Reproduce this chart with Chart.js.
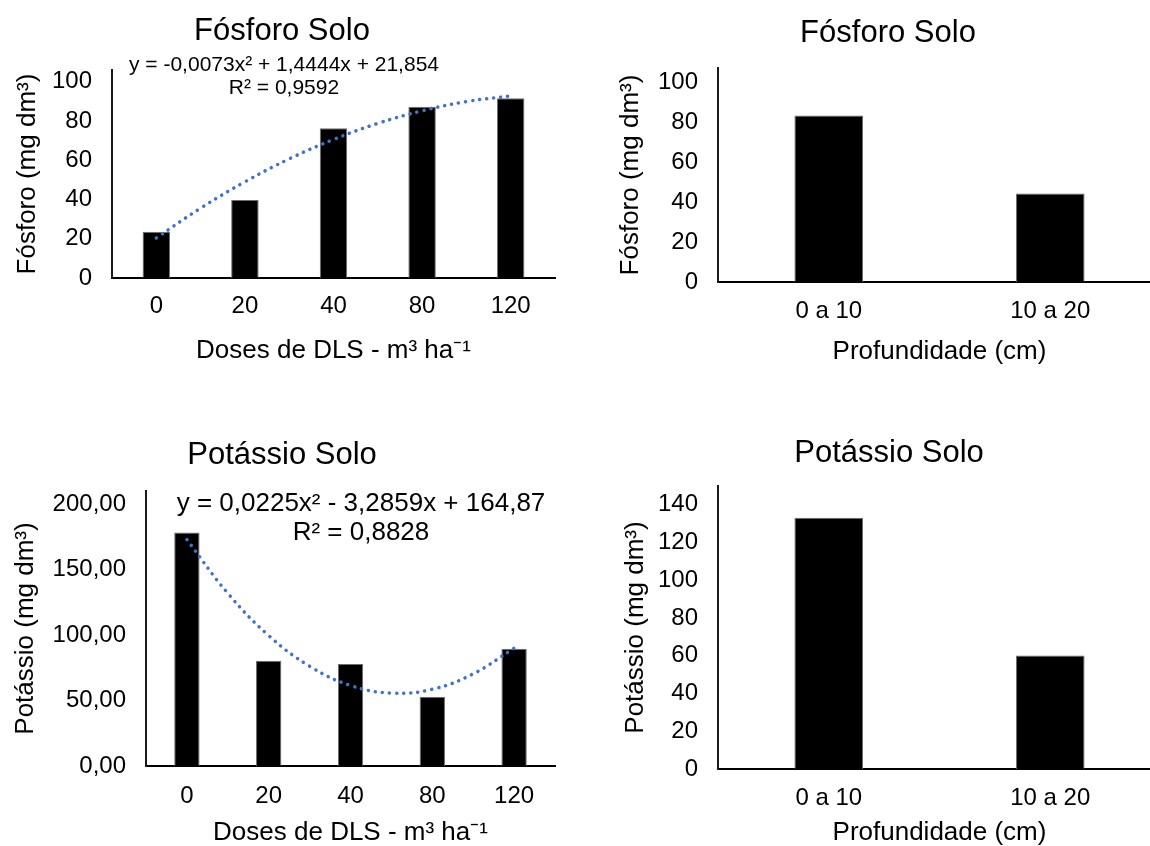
<!DOCTYPE html>
<html lang="pt">
<head>
<meta charset="utf-8">
<title>Fósforo e Potássio no solo</title>
<script src="https://cdn.jsdelivr.net/npm/chart.js@4.4.1/dist/chart.umd.min.js"></script>
<style>
  html, body { margin: 0; padding: 0; background: #fff; overflow: hidden; }
  body { width: 1150px; height: 846px; position: relative; }
  canvas { position: absolute; }
  #pDoses { left: 0; top: 0; }
  #pProf  { left: 575px; top: 0; }
  #kDoses { left: 0; top: 430px; }
  #kProf  { left: 575px; top: 430px; }
</style>
</head>
<body>
<canvas id="pDoses" width="575" height="430"></canvas>
<canvas id="pProf" width="600" height="430"></canvas>
<canvas id="kDoses" width="575" height="416"></canvas>
<canvas id="kProf" width="600" height="416"></canvas>
<script>
// categorias
const doseLabels  = ['0', '20', '40', '80', '120'];
const depthLabels = ['0 a 10', '10 a 20'];

// teores no solo (mg dm-3)
const fosforoDose   = [23.6, 39.8, 76.3, 87.3, 91.6];
const fosforoDepth  = [83.2, 44.3];
const potassioDose  = [178.3, 80.3, 77.8, 52.9, 89.5];
const potassioDepth = [133.2, 60.1];

// linha de tendência polinomial: valor em cada dose e a meio caminho entre doses
const fosforoTrend  = [20.4, 35.6, 49.0, 60.7, 70.6, 78.8, 85.2, 89.9, 92.8];
const potassioTrend = [172.9, 131.9, 99.6, 76.2, 61.5, 55.7, 58.6, 70.4, 90.0];

// marcas dos eixos y
const fosforoTicks       = [0, 20, 40, 60, 80, 100];
const potassioDoseTicks  = [0, 50, 100, 150, 200];
const potassioDepthTicks = [0, 20, 40, 60, 80, 100, 120, 140];

const FONT = "'Liberation Sans', Arial, sans-serif";
Chart.defaults.font.family = FONT;
Chart.defaults.color = '#000';

// texto da equação de regressão, desenhado por cima do gráfico
const equationLabel = {
    id: 'equationLabel',
    afterDatasetsDraw(chart, args, opts) {
        if (!opts.lines) return;
        const ctx = chart.ctx;
        ctx.save();
        ctx.font = `${opts.size}px ${FONT}`;
        ctx.fillStyle = '#000';
        ctx.textAlign = 'center';
        ctx.textBaseline = 'middle';
        opts.lines.forEach(l => ctx.fillText(l.text, l.x, l.y));
        ctx.restore();
    }
};

function buildChart(id, cfg) {
    const datasets = [{
        data: cfg.values,
        backgroundColor: '#000',
        borderColor: '#6e6e6e',
        borderWidth: 1,
        borderSkipped: 'bottom',
        grouped: false,
        barPercentage: 0.31,
        categoryPercentage: 1,
        order: 1
    }];
    const scales = {
        x: {
            grid: { display: false, drawTicks: false },
            border: { display: true, color: '#000', width: 2 },
            ticks: { padding: cfg.xTickPad, font: { size: 24 }, color: '#000' },
            title: { display: true, text: cfg.xTitle, color: '#000',
                     font: { size: 26, lineHeight: 1 }, padding: { top: 0, bottom: cfg.xTitlePad } },
            afterFit: s => { s.height = cfg.xHeight; }
        },
        y: {
            min: 0,
            max: cfg.yMax,
            afterBuildTicks: s => { s.ticks = cfg.ticks.map(v => ({ value: v })); },
            grid: { display: false, drawTicks: false },
            border: { display: true, color: '#1a1a1a', width: 2 },
            ticks: { padding: 20, font: { size: 24 }, color: '#000', callback: cfg.tickFmt || (v => String(v)) },
            title: { display: true, text: cfg.yTitle, color: '#000',
                     font: { size: 26, lineHeight: 1 }, padding: { top: cfg.yTitlePad, bottom: 0 } },
            afterFit: s => { s.width = cfg.yWidth; }
        }
    };
    if (cfg.trend) {
        datasets.push({
            type: 'line',
            data: cfg.trend.map((y, i) => ({ x: i / 2, y })),
            xAxisID: 'xTrend',
            borderColor: '#4472C4',
            borderWidth: 3.5,
            borderDash: [0.1, 7],
            borderCapStyle: 'round',
            pointRadius: 0,
            tension: 0.4,
            fill: false,
            order: 0
        });
        // eixo auxiliar alinhado ao centro das categorias (índice -0.5 .. 4.5)
        scales.xTrend = { type: 'linear', min: -0.5, max: 4.5, offset: false, display: false };
    }
    return new Chart(document.getElementById(id), {
        type: 'bar',
        data: { labels: cfg.labels, datasets },
        options: {
            responsive: false,
            animation: false,
            layout: { padding: cfg.pad },
            plugins: {
                legend: { display: false },
                tooltip: { enabled: false },
                title: {
                    display: true, text: cfg.title, color: '#000',
                    font: { size: 31, weight: 'normal', lineHeight: 1.2 },
                    padding: cfg.titlePad
                },
                equationLabel: cfg.equation || {}
            },
            scales
        },
        plugins: [equationLabel]
    });
}

const dosesTitle = 'Doses de DLS - m³ ha⁻¹';
const depthTitle = 'Profundidade (cm)';

buildChart('pDoses', {
    title: 'Fósforo Solo', labels: doseLabels, values: fosforoDose, trend: fosforoTrend,
    ticks: fosforoTicks, yMax: 106,
    xTitle: dosesTitle, yTitle: 'Fósforo (mg dm³)',
    pad: { left: 9, right: 20, top: 0, bottom: 0 },
    titlePad: { top: 12.4, bottom: 20.4 },
    yWidth: 103, yTitlePad: 6, xHeight: 152, xTickPad: 14.3, xTitlePad: 66,
    equation: { size: 21, lines: [
        { text: 'y = -0,0073x² + 1,4444x + 21,854', x: 284, y: 65 },
        { text: 'R² = 0,9592', x: 284, y: 88 }
    ] }
});

buildChart('pProf', {
    title: 'Fósforo Solo', labels: depthLabels, values: fosforoDepth,
    ticks: fosforoTicks, yMax: 107,
    xTitle: depthTitle, yTitle: 'Fósforo (mg dm³)',
    pad: { left: 40, right: 14, top: 0, bottom: 0 },
    titlePad: { top: 14.7, bottom: 16.1 },
    yWidth: 103, yTitlePad: 3, xHeight: 148, xTickPad: 15.3, xTitlePad: 65.3
});

buildChart('kDoses', {
    title: 'Potássio Solo', labels: doseLabels, values: potassioDose, trend: potassioTrend,
    ticks: potassioDoseTicks, yMax: 210,
    tickFmt: v => v.toFixed(2).replace('.', ','),
    xTitle: dosesTitle, yTitle: 'Potássio (mg dm³)',
    pad: { left: 9, right: 20, top: 0, bottom: 0 },
    titlePad: { top: 6.4, bottom: 17.4 },
    yWidth: 137, yTitlePad: 4, xHeight: 80, xTickPad: 16.3, xTitlePad: 0,
    equation: { size: 26, lines: [
        { text: 'y = 0,0225x² - 3,2859x + 164,87', x: 361, y: 74 },
        { text: 'R² = 0,8828', x: 361, y: 103 }
    ] }
});

buildChart('kProf', {
    title: 'Potássio Solo', labels: depthLabels, values: potassioDepth,
    ticks: potassioDepthTicks, yMax: 150,
    xTitle: depthTitle, yTitle: 'Potássio (mg dm³)',
    pad: { left: 42, right: 14, top: 0, bottom: 0 },
    titlePad: { top: 4.4, bottom: 14.4 },
    yWidth: 101, yTitlePad: 5.5, xHeight: 77, xTickPad: 14.9, xTitlePad: 0
});
</script>
</body>
</html>
